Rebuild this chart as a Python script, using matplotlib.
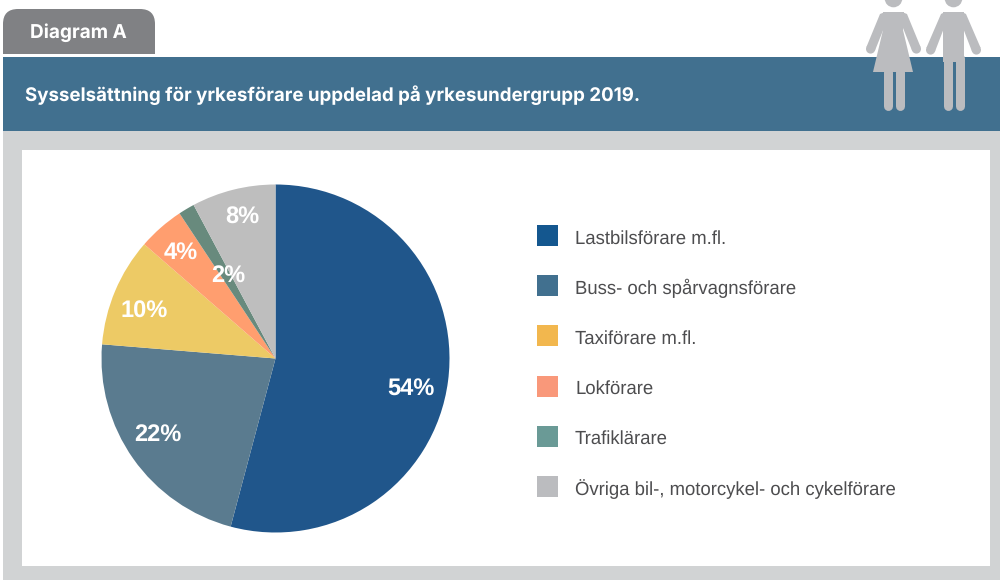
import matplotlib
matplotlib.use("Agg")
import matplotlib.pyplot as plt
import matplotlib.patches as patches

plt.rcParams['text.hinting'] = 'none'

categories = ["Lastbilsförare m.fl.", "Buss- och spårvagnsförare", "Taxiförare m.fl.",
              "Lokförare", "Trafiklärare", "Övriga bil-, motorcykel- och cykelförare"]
# slice sizes as measured on the picture, printed labels are rounded
values = [54.15, 22.15, 10.1, 4.3, 1.5, 7.8]
value_labels = ["54%", "22%", "10%", "4%", "2%", "8%"]

pie_colors = ["#20568B", "#5A7B8F", "#EDCA65", "#FF9E6F", "#688A7D", "#BEBEBE"]
swatch_colors = ["#14578F", "#41708F", "#F2B74E", "#F9987A", "#6A9A96", "#BBBCBF"]
label_pos = [(410.5, 389), (157.5, 435), (144, 312), (181, 253), (228, 276), (242, 217.5)]

W, H = 1000, 580
ICON = "#BBBCBF"

fig = plt.figure(figsize=(W / 100, H / 100), dpi=100, facecolor="white")
ax = fig.add_axes([0, 0, 1, 1])
ax.set_xlim(0, W)
ax.set_ylim(H, 0)
ax.axis("off")

# backgrounds
ax.add_patch(patches.Rectangle((3, 131), 997, 449, fc="#D1D3D4", ec="none"))
ax.add_patch(patches.Rectangle((22, 150), 968, 416, fc="white", ec="none"))
ax.add_patch(patches.Rectangle((3, 57), 997, 74, fc="#41708F", ec="none"))

# tab with rounded top corners
tab = patches.FancyBboxPatch((3, 9), 152, 80, boxstyle="round,pad=0,rounding_size=15",
                             fc="#808184", ec="none")
ax.add_patch(tab)
tab.set_clip_path(patches.Rectangle((3, 9), 152, 45, transform=ax.transData))

ax.text(30, 32.5, "Diagram A", color="white", fontsize=13.7, fontweight="bold",
        family="Inter", ha="left", va="center")
ax.text(25, 95.5, "Sysselsättning för yrkesförare uppdelad på yrkesundergrupp 2019.",
        color="white", fontsize=13.46, fontweight="bold", family="Inter", ha="left", va="center")


def limb(x0, y0, x1, y1, w):
    ax.plot([x0, x1], [y0, y1], color=ICON, lw=w * 0.72, solid_capstyle="round")


def arms(mid, pts, hand):
    # one arm plus its mirror image around the body centre
    for flip in (False, True):
        mx = (lambda x: 2 * mid - x) if flip else (lambda x: x)
        ax.add_patch(patches.Polygon([(mx(x), y) for x, y in pts], fc=ICON, ec="none"))
        ax.add_patch(patches.Circle((mx(hand[0]), hand[1]), 4.6, fc=ICON, ec="none"))


# woman
ax.add_patch(patches.Circle((893.5, -1.5), 8.8, fc=ICON, ec="none"))
ax.add_patch(patches.Polygon([(883, 12), (904, 12), (903, 30), (913, 72), (873, 72), (883, 30)],
                             fc=ICON, ec="none"))
arms(893.5, [(885, 12), (880, 14), (866.3, 47.3), (874.8, 51), (884, 28)], (870.6, 49))
limb(887.5, 72, 887.5, 105.5, 9)
limb(899.5, 72, 899.5, 105.5, 9)

# man
ax.add_patch(patches.Circle((953.5, -1.5), 8.8, fc=ICON, ec="none"))
ax.add_patch(patches.Rectangle((943, 12), 21, 50, fc=ICON, ec="none"))
arms(953.5, [(945, 12), (941, 14), (926.3, 48), (934.8, 52), (944, 28)], (930.6, 50))
limb(947.5, 58, 947.5, 105.5, 9)
limb(959.5, 58, 959.5, 105.5, 9)

# pie
cx, cy, r = 275.5, 358.5, 174
ax_pie = fig.add_axes([(cx - r) / W, 1 - (cy + r) / H, 2 * r / W, 2 * r / H])
ax_pie.pie(values, colors=pie_colors, startangle=90, counterclock=False, radius=1)
ax_pie.set_xlim(-1, 1)
ax_pie.set_ylim(-1, 1)
ax_pie.axis("off")

for lab, (x, y) in zip(value_labels, label_pos):
    fig.text(x / W, 1 - y / H, lab, color="white", fontsize=17, fontweight="bold",
             family="Liberation Sans", ha="center", va="center")

# legend
for i, (name, col) in enumerate(zip(categories, swatch_colors)):
    y = 235.5 + i * 50.2
    ax.add_patch(patches.Rectangle((537, y - 10.5), 21, 21, fc=col, ec="none"))
    ax.text(575, y + 3, name, color="#4D4D4F", fontsize=13.35, family="Liberation Sans",
            ha="left", va="center")

fig.savefig("out.png", dpi=100)
plt.close()
